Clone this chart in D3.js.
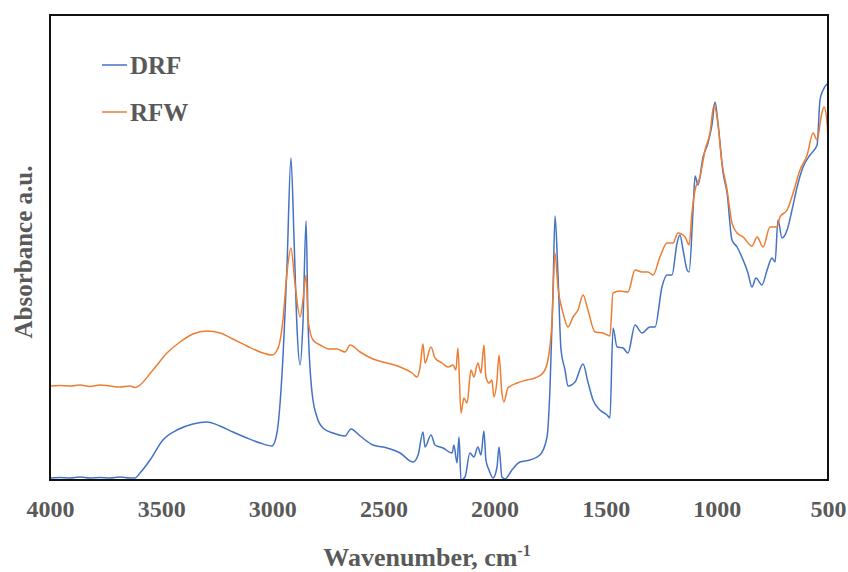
<!DOCTYPE html>
<html>
<head>
<meta charset="utf-8">
<script src="https://cdn.jsdelivr.net/npm/d3@7"></script>
<style>
  body { margin: 0; background: #fff; }
  svg { display: block; }
  .lbl { font-family: "Liberation Serif", "Times New Roman", serif; font-weight: bold; fill: #595959; }
</style>
</head>
<body>
<script>
// FTIR spectra, [wavenumber cm-1, absorbance a.u.]
const drf = [
  [4000, 0.02], [3955, 0.025], [3910, 0.02], [3865, 0.03], [3820, 0.02], [3775, 0.025],
  [3730, 0.02], [3685, 0.03], [3640, 0.02], [3618, 0.02], [3595, 0.07], [3550, 0.20],
  [3492, 0.40], [3429, 0.50], [3357, 0.56], [3294, 0.58], [3235, 0.54], [3177, 0.48],
  [3114, 0.42], [3055, 0.37], [3001, 0.34], [2979, 0.47], [2956, 1.07], [2934, 2.13],
  [2916, 3.22], [2902, 2.40], [2889, 1.53], [2875, 1.15], [2862, 1.57], [2848, 2.59],
  [2839, 1.57], [2821, 0.87], [2799, 0.63], [2772, 0.52], [2727, 0.47], [2673, 0.44],
  [2646, 0.51], [2605, 0.44], [2547, 0.35], [2484, 0.32], [2425, 0.27], [2367, 0.18],
  [2344, 0.25], [2322, 0.48], [2313, 0.33], [2286, 0.45], [2268, 0.35], [2232, 0.32],
  [2191, 0.27], [2183, 0.35], [2169, 0.17], [2160, 0.43], [2151, 0.00], [2133, 0.03],
  [2111, 0.27], [2093, 0.23], [2075, 0.33], [2061, 0.25], [2048, 0.49], [2039, 0.20],
  [2025, 0.10], [2007, 0.02], [1989, 0.13], [1980, 0.33], [1967, 0.03], [1953, 0.01],
  [1922, 0.10], [1886, 0.18], [1841, 0.20], [1796, 0.25], [1764, 0.43], [1751, 0.90],
  [1737, 1.90], [1728, 2.64], [1715, 2.07], [1701, 1.30], [1683, 1.10], [1670, 0.94],
  [1638, 0.98], [1602, 1.16], [1580, 0.98], [1557, 0.80], [1526, 0.70], [1494, 0.65],
  [1481, 0.62], [1467, 1.52], [1449, 1.33], [1422, 1.32], [1400, 1.27], [1368, 1.55],
  [1337, 1.47], [1301, 1.53], [1278, 1.53], [1247, 1.93], [1224, 2.05], [1202, 2.05],
  [1179, 2.37], [1166, 2.45], [1152, 2.30], [1134, 2.10], [1125, 2.08], [1107, 2.70],
  [1098, 3.04], [1085, 2.95], [1062, 3.23], [1040, 3.37], [1022, 3.55], [1008, 3.78],
  [995, 3.57], [972, 3.07], [954, 2.87], [932, 2.40], [909, 2.33], [882, 2.20],
  [860, 2.07], [842, 1.93], [824, 2.02], [797, 1.95], [774, 2.10], [752, 2.22],
  [738, 2.18], [725, 2.60], [707, 2.42], [684, 2.50], [662, 2.70], [639, 2.93],
  [612, 3.13], [581, 3.25], [549, 3.35], [536, 3.80], [522, 3.90], [500, 3.97]
];

const rfw = [
  [4000, 0.94], [3955, 0.945], [3910, 0.94], [3865, 0.95], [3820, 0.935], [3775, 0.95],
  [3730, 0.94], [3685, 0.93], [3640, 0.94], [3618, 0.925], [3609, 0.93], [3537, 1.10],
  [3474, 1.27], [3415, 1.38], [3357, 1.46], [3294, 1.49], [3235, 1.47], [3177, 1.41],
  [3114, 1.34], [3055, 1.28], [3001, 1.25], [2974, 1.32], [2952, 1.60], [2934, 2.07],
  [2916, 2.32], [2898, 1.97], [2875, 1.63], [2862, 1.80], [2848, 2.05], [2839, 1.60],
  [2817, 1.40], [2785, 1.35], [2745, 1.31], [2709, 1.31], [2673, 1.28], [2650, 1.35],
  [2605, 1.28], [2547, 1.21], [2484, 1.17], [2425, 1.13], [2371, 1.07], [2349, 1.03],
  [2335, 1.13], [2322, 1.36], [2313, 1.17], [2286, 1.33], [2268, 1.22], [2236, 1.17],
  [2209, 1.13], [2187, 1.15], [2174, 1.10], [2165, 1.32], [2151, 0.67], [2138, 0.82],
  [2124, 0.77], [2106, 1.10], [2093, 1.03], [2075, 1.17], [2061, 1.07], [2048, 1.35],
  [2039, 1.03], [2025, 0.97], [2012, 1.00], [2003, 0.83], [1989, 1.00], [1980, 1.25],
  [1967, 0.87], [1958, 0.78], [1940, 0.92], [1899, 0.97], [1854, 1.00], [1818, 1.02],
  [1782, 1.07], [1760, 1.20], [1742, 1.57], [1728, 2.27], [1715, 1.93], [1692, 1.67],
  [1670, 1.53], [1647, 1.63], [1625, 1.70], [1602, 1.85], [1580, 1.70], [1548, 1.48],
  [1512, 1.47], [1481, 1.44], [1467, 1.87], [1436, 1.89], [1400, 1.88], [1368, 2.10],
  [1337, 2.08], [1310, 2.08], [1287, 2.05], [1256, 2.23], [1224, 2.37], [1197, 2.37],
  [1175, 2.47], [1143, 2.43], [1125, 2.35], [1112, 2.67], [1098, 2.90], [1076, 3.03],
  [1053, 3.30], [1031, 3.47], [1013, 3.75], [999, 3.63], [977, 3.17], [954, 2.90],
  [932, 2.57], [909, 2.47], [882, 2.43], [842, 2.34], [819, 2.43], [792, 2.33],
  [761, 2.53], [729, 2.53], [716, 2.63], [684, 2.70], [657, 2.87], [626, 3.10],
  [594, 3.25], [567, 3.47], [549, 3.40], [531, 3.63], [518, 3.73], [504, 3.57], [500, 3.40]
];

const xTicks = [4000, 3500, 3000, 2500, 2000, 1500, 1000, 500];
const seriesNames = ['DRF', 'RFW'];
const seriesColors = ['#4472C4', '#ED7D31'];

const width = 848;
const height = 572;
const margin = { top: 15, right: 20, bottom: 92, left: 50 };

const svg = d3.select('body').append('svg')
  .attr('width', width)
  .attr('height', height);

const x = d3.scaleLinear()
  .domain([4000, 500])
  .range([margin.left, width - margin.right]);

const y = d3.scaleLinear()
  .domain([0, 4.65])
  .range([height - margin.bottom, margin.top]);

const line = d3.line()
  .x(d => x(d[0]))
  .y(d => y(d[1]))
  .curve(d3.curveMonotoneX);

// clip so the spectra stay inside the frame
svg.append('defs').append('clipPath')
  .attr('id', 'plot-clip')
  .append('rect')
  .attr('x', margin.left)
  .attr('y', margin.top)
  .attr('width', x.range()[1] - margin.left)
  .attr('height', y.range()[0] - margin.top);

const plot = svg.append('g').attr('clip-path', 'url(#plot-clip)');

[drf, rfw].forEach((data, i) => {
  plot.append('path')
    .datum(data)
    .attr('fill', 'none')
    .attr('stroke', seriesColors[i])
    .attr('stroke-width', 1.5)
    .attr('stroke-linejoin', 'round')
    .attr('d', line);
});

// frame
svg.append('rect')
  .attr('x', margin.left)
  .attr('y', margin.top)
  .attr('width', x.range()[1] - margin.left)
  .attr('height', y.range()[0] - margin.top)
  .attr('fill', 'none')
  .attr('stroke', '#111')
  .attr('stroke-width', 2);

// x axis labels
const xAxis = svg.append('g')
  .attr('transform', `translate(0,${y.range()[0]})`)
  .call(d3.axisBottom(x).tickValues(xTicks).tickSize(0).tickPadding(20).tickFormat(d3.format('d')));
xAxis.select('.domain').remove();
xAxis.selectAll('text')
  .attr('class', 'lbl')
  .style('font-size', '24px')
  .attr('font-family', null)
  .attr('fill', null);

// x title
const xt = svg.append('text')
  .attr('class', 'lbl')
  .attr('x', 427)
  .attr('y', 566)
  .attr('text-anchor', 'middle')
  .style('font-size', '26px');
xt.append('tspan').text('Wavenumber, cm');
xt.append('tspan').attr('dy', -10).style('font-size', '16px').text('-1');

// y title
svg.append('text')
  .attr('class', 'lbl')
  .attr('transform', 'translate(32,252) rotate(-90)')
  .attr('text-anchor', 'middle')
  .style('font-size', '25px')
  .text('Absorbance a.u.');

// legend
const legend = svg.append('g');
seriesNames.forEach((name, i) => {
  const ly = 65 + i * 47;
  legend.append('line')
    .attr('x1', 102).attr('x2', 127)
    .attr('y1', ly).attr('y2', ly)
    .attr('stroke', seriesColors[i])
    .attr('stroke-opacity', 0.75)
    .attr('stroke-width', 2);
  legend.append('text')
    .attr('class', 'lbl')
    .attr('x', 130)
    .attr('y', ly + 9)
    .style('font-size', '25px')
    .text(name);
});
</script>
</body>
</html>
